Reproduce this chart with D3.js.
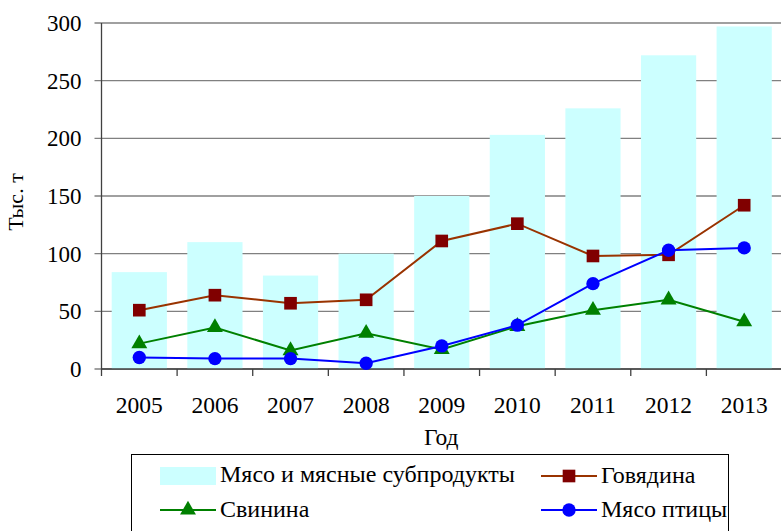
<!DOCTYPE html>
<html>
<head>
<meta charset="UTF-8">
<title>Мясо и мясные субпродукты</title>
<script src="https://cdn.jsdelivr.net/npm/d3@7"></script>
<style>
  body { margin: 0; background: #fff; }
  svg text { font-family: "Liberation Serif", "Times New Roman", serif; fill: #000; }
  .grid line { stroke: #808080; stroke-width: 1.3; }
</style>
</head>
<body>
<div id="graphe"></div>
<script>
  var years = ["2005", "2006", "2007", "2008", "2009", "2010", "2011", "2012", "2013"];
  var meatTotal = [84, 110, 81, 100, 150, 203, 226, 272, 297];
  var beef = [51, 64, 57, 60, 111, 126, 98, 99, 142];
  var pork = [22, 36, 16, 31, 17, 37, 51, 60, 41];
  var poultry = [10, 9, 9, 5, 20, 38, 74, 103, 105];
  var yTicks = [0, 50, 100, 150, 200, 250, 300];

  var width = 781, height = 531;
  var margin = {top: 23, right: -1, bottom: 162, left: 101.5};

  var svg = d3.select("#graphe").append("svg")
    .attr("width", width)
    .attr("height", height);

  var x = d3.scaleBand()
    .domain(years)
    .range([margin.left, width - margin.right]);

  var y = d3.scaleLinear()
    .domain([0, 300])
    .range([height - margin.bottom, margin.top]);

  // grille horizontale
  svg.append("g").attr("class", "grid")
    .selectAll("line")
    .data(yTicks)
    .enter().append("line")
    .attr("x1", margin.left - 7)
    .attr("x2", width)
    .attr("y1", function(d) { return y(d); })
    .attr("y2", function(d) { return y(d); });

  // barres
  var barW = x.bandwidth() * 0.73;
  svg.append("g").selectAll("rect")
    .data(meatTotal)
    .enter().append("rect")
    .attr("x", function(d, i) { return x(years[i]) + (x.bandwidth() - barW) / 2; })
    .attr("y", function(d) { return y(d); })
    .attr("width", barW)
    .attr("height", function(d) { return y(0) - y(d); })
    .style("fill", "#ccffff");

  // axes
  svg.append("line")
    .attr("x1", margin.left).attr("x2", margin.left)
    .attr("y1", y(300)).attr("y2", y(0) + 7)
    .style("stroke", "#404040").style("stroke-width", 1.3);
  svg.append("line")
    .attr("x1", margin.left).attr("x2", width)
    .attr("y1", y(0)).attr("y2", y(0))
    .style("stroke", "#404040").style("stroke-width", 1.3);
  svg.append("g").selectAll("line")
    .data(years.slice(1))
    .enter().append("line")
    .attr("x1", function(d) { return x(d); })
    .attr("x2", function(d) { return x(d); })
    .attr("y1", y(0))
    .attr("y2", y(0) + 7)
    .style("stroke", "#404040").style("stroke-width", 1.3);

  svg.append("g").selectAll("text")
    .data(yTicks)
    .enter().append("text")
    .attr("x", margin.left - 20)
    .attr("y", function(d) { return y(d); })
    .attr("dy", "0.35em")
    .attr("text-anchor", "end")
    .style("font-size", "23px")
    .text(function(d) { return d; });

  svg.append("g").selectAll("text")
    .data(years)
    .enter().append("text")
    .attr("x", function(d) { return x(d) + x.bandwidth() / 2; })
    .attr("y", 413)
    .attr("text-anchor", "middle")
    .style("font-size", "23.5px")
    .text(function(d) { return d; });

  svg.append("text")
    .attr("x", (margin.left + width) / 2)
    .attr("y", 445)
    .attr("text-anchor", "middle")
    .style("font-size", "23.5px")
    .text("Год");

  svg.append("text")
    .attr("transform", "translate(23,202) rotate(-90)")
    .attr("text-anchor", "middle")
    .style("font-size", "22px")
    .text("Тыс. т");

  // séries
  var series = [
    {name: "Говядина", values: beef, line: "#993300", fill: "#800000", marker: d3.symbolSquare, size: 160},
    {name: "Свинина", values: pork, line: "#008000", fill: "#008000", marker: d3.symbolTriangle, size: 110},
    {name: "Мясо птицы", values: poultry, line: "#0000ff", fill: "#0000ff", marker: d3.symbolCircle, size: 140}
  ];

  var line = d3.line()
    .x(function(d, i) { return x(years[i]) + x.bandwidth() / 2; })
    .y(function(d) { return y(d); });

  series.forEach(function(s) {
    svg.append("path")
      .attr("d", line(s.values))
      .style("fill", "none")
      .style("stroke", s.line)
      .style("stroke-width", 2);
    svg.append("g").selectAll("path")
      .data(s.values)
      .enter().append("path")
      .attr("transform", function(d, i) {
        return "translate(" + (x(years[i]) + x.bandwidth() / 2) + "," + y(d) + ")";
      })
      .attr("d", d3.symbol().type(s.marker).size(s.size))
      .style("fill", s.fill);
  });

  // légende
  var lg = svg.append("g");
  lg.append("rect")
    .attr("x", 131.5).attr("y", 454.5)
    .attr("width", 597).attr("height", 90)
    .style("fill", "#fff").style("stroke", "#000").style("stroke-width", 1);

  lg.append("rect")
    .attr("x", 160).attr("y", 467)
    .attr("width", 56).attr("height", 18)
    .style("fill", "#ccffff");
  lg.append("text")
    .attr("x", 220).attr("y", 482)
    .style("font-size", "24px")
    .text("Мясо и мясные субпродукты");

  var legendItems = [
    {s: series[0], x: 541, y: 476},
    {s: series[1], x: 160, y: 510},
    {s: series[2], x: 541, y: 510}
  ];
  legendItems.forEach(function(it) {
    lg.append("line")
      .attr("x1", it.x).attr("x2", it.x + 56)
      .attr("y1", it.y).attr("y2", it.y)
      .style("stroke", it.s.line).style("stroke-width", 2);
    lg.append("path")
      .attr("transform", "translate(" + (it.x + 28) + "," + it.y + ")")
      .attr("d", d3.symbol().type(it.s.marker).size(it.s.size))
      .style("fill", it.s.fill);
    lg.append("text")
      .attr("x", it.x + 60).attr("y", it.y + 7)
      .style("font-size", "24px")
      .text(it.s.name);
  });
</script>
</body>
</html>
